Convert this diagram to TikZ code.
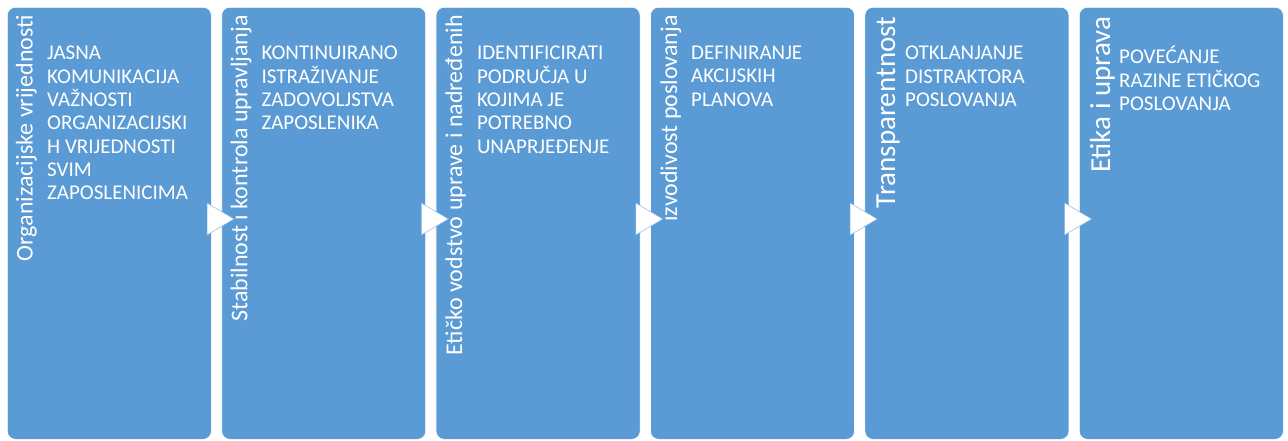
\documentclass[tikz,border=0pt]{standalone}
\usepackage{fontspec}
\setmainfont{Carlito}
\definecolor{stageblue}{HTML}{5B9BD5}
\tikzset{
  stagebox/.style={fill=stageblue, draw=white, line width=0.6pt, rounded corners=8pt,
    minimum width=204pt, minimum height=432pt, anchor=north west, inner sep=0pt},
  stagetitle/.style={white, rotate=90, anchor=base east, inner sep=0pt,
    font=\fontsize{24}{24}\selectfont},
  bigtitle/.style={stagetitle, font=\fontsize{29}{29}\selectfont},
  stagetext/.style={white, anchor=north west, align=left, inner sep=0pt,
    font=\fontsize{21}{23.3}\selectfont},
  pointer/.style={fill=white, draw=stageblue!70, line width=0.5pt}
}
\begin{document}
\begin{tikzpicture}[x=1pt,y=-1pt]
\useasboundingbox (0,0) rectangle (1288,441);
% stage 1
\node[stagebox] (s1) at (7,7) {};
\node[stagetitle] (t1) at (32.5,15) {Organizacijske vrijednosti};
\node[stagetext] (b1) at (47,46) {JASNA\\KOMUNIKACIJA\\VAŽNOSTI\\ORGANIZACIJSKI\\H VRIJEDNOSTI\\SVIM\\ZAPOSLENICIMA};
% stage 2
\node[stagebox] (s2) at (221.4,7) {};
\node[stagetitle] (t2) at (247.4,15) {Stabilnost ı kontrola upravljanja};
\node[stagetext] (b2) at (261.4,46) {KONTINUIRANO\\ISTRAŽIVANJE\\ZADOVOLJSTVA\\ZAPOSLENIKA};
% stage 3
\node[stagebox] (s3) at (435.8,7) {};
\node[stagetitle] (t3) at (462,15) {Etičko vodstvo uprave i nadređenih};
\node[stagetext] (b3) at (476.8,46) {IDENTIFICIRATI\\PODRUČJA U\\KOJIMA JE\\POTREBNO\\UNAPRJEĐENJE};
% stage 4
\node[stagebox] (s4) at (650.2,7) {};
\node[stagetitle] (t4) at (677,15) {ızvodivost poslovanja};
\node[stagetext] (b4) at (691,46) {DEFINIRANJE\\AKCIJSKIH\\PLANOVA};
% stage 5
\node[stagebox] (s5) at (864.6,7) {};
\node[bigtitle] (t5) at (895,16.5) {Transparentnost};
\node[stagetext] (b5) at (905,46) {OTKLANJANJE\\DISTRAKTORA\\POSLOVANJA};
% stage 6
\node[stagebox] (s6) at (1079,7) {};
\node[bigtitle] (t6) at (1110,16.5) {Etika i uprava};
\node[stagetext] (b6) at (1119,46) {POVEĆANJE\\RAZINE ETIČKOG\\POSLOVANJA};
% pointers between stages
\filldraw[pointer] (207,203) -- (234,219) -- (207,235) -- cycle;
\filldraw[pointer] (421.4,203) -- (448.4,219) -- (421.4,235) -- cycle;
\filldraw[pointer] (635.8,203) -- (662.8,219) -- (635.8,235) -- cycle;
\filldraw[pointer] (850.2,203) -- (877.2,219) -- (850.2,235) -- cycle;
\filldraw[pointer] (1064.6,203) -- (1091.6,219) -- (1064.6,235) -- cycle;
\end{tikzpicture}
\end{document}
